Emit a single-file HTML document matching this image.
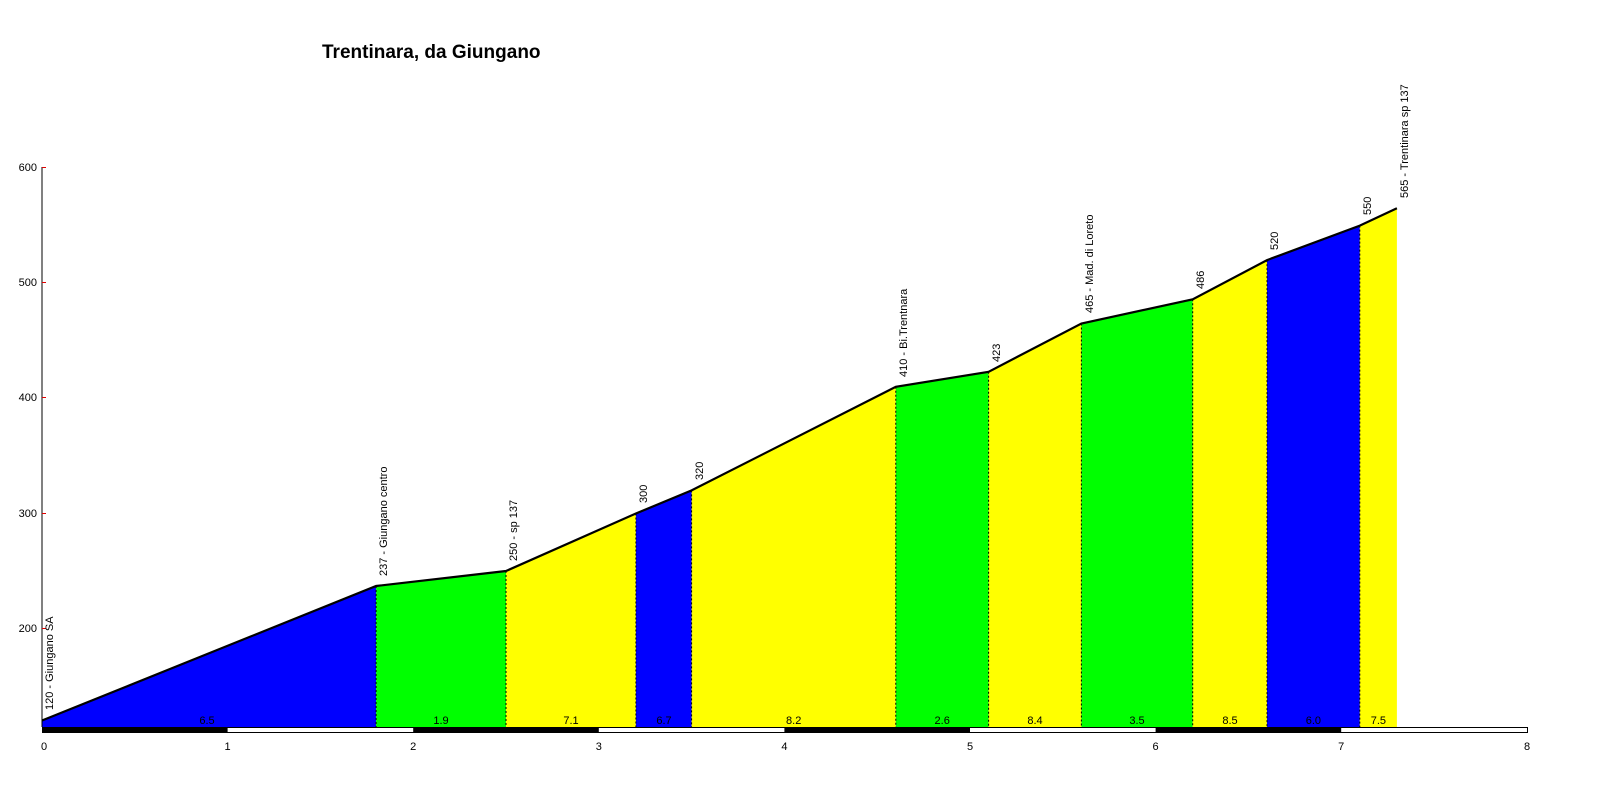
<!DOCTYPE html>
<html><head><meta charset="utf-8"><style>
html,body{margin:0;padding:0;background:#fff;}
svg{display:block;font-family:"Liberation Sans",Arial,sans-serif;}
</style></head><body>
<svg width="1600" height="800" viewBox="0 0 1600 800" xmlns="http://www.w3.org/2000/svg">
<rect width="1600" height="800" fill="#fff"/>
<text x="322" y="58" font-size="19" font-weight="bold">Trentinara, da Giungano</text>
<g stroke="none">
<polygon fill="#0000ff" points="42,727 42,720.5 376.1,586 376.1,727"/>
<polygon fill="#00ff00" points="376.1,727 376.1,586 506,571 506,727"/>
<polygon fill="#ffff00" points="506,727 506,571 635.9,513.5 635.9,727"/>
<polygon fill="#0000ff" points="635.9,727 635.9,513.5 691.6,490.4 691.6,727"/>
<polygon fill="#ffff00" points="691.6,727 691.6,490.4 895.8,386.8 895.8,727"/>
<polygon fill="#00ff00" points="895.8,727 895.8,386.8 988.6,371.8 988.6,727"/>
<polygon fill="#ffff00" points="988.6,727 988.6,371.8 1081.4,323.5 1081.4,727"/>
<polygon fill="#00ff00" points="1081.4,727 1081.4,323.5 1192.7,299.3 1192.7,727"/>
<polygon fill="#ffff00" points="1192.7,727 1192.7,299.3 1267,260.1 1267,727"/>
<polygon fill="#0000ff" points="1267,727 1267,260.1 1359.8,225.6 1359.8,727"/>
<polygon fill="#ffff00" points="1359.8,727 1359.8,225.6 1396.9,208.3 1396.9,727"/>
</g>
<g stroke="#000" stroke-width="1" stroke-dasharray="2,2">
<line x1="376.1" y1="586" x2="376.1" y2="727"/>
<line x1="506" y1="571" x2="506" y2="727"/>
<line x1="635.9" y1="513.5" x2="635.9" y2="727"/>
<line x1="691.6" y1="490.4" x2="691.6" y2="727"/>
<line x1="895.8" y1="386.8" x2="895.8" y2="727"/>
<line x1="988.6" y1="371.8" x2="988.6" y2="727"/>
<line x1="1081.4" y1="323.5" x2="1081.4" y2="727"/>
<line x1="1192.7" y1="299.3" x2="1192.7" y2="727"/>
<line x1="1267" y1="260.1" x2="1267" y2="727"/>
<line x1="1359.8" y1="225.6" x2="1359.8" y2="727"/>
</g>
<polyline fill="none" stroke="#000" stroke-width="2.2" points="42,720.5 376.1,586 506,571 635.9,513.5 691.6,490.4 895.8,386.8 988.6,371.8 1081.4,323.5 1192.7,299.3 1267,260.1 1359.8,225.6 1396.9,208.3"/>
<line x1="42" y1="167" x2="42" y2="727" stroke="#000" stroke-width="1"/>
<g stroke="#e00000" stroke-width="1">
<line x1="42" y1="167.5" x2="46" y2="167.5"/>
<line x1="42" y1="282.5" x2="46" y2="282.5"/>
<line x1="42" y1="397.5" x2="46" y2="397.5"/>
<line x1="42" y1="513.5" x2="46" y2="513.5"/>
<line x1="42" y1="628.5" x2="46" y2="628.5"/>
</g>
<g font-size="11" text-anchor="end" fill="#000">
<text x="37" y="171">600</text>
<text x="37" y="286">500</text>
<text x="37" y="401">400</text>
<text x="37" y="517">300</text>
<text x="37" y="632">200</text>
</g>
<rect x="42.5" y="727.5" width="1485" height="5" fill="#fff" stroke="#000" stroke-width="1"/>
<g fill="#000">
<rect x="42" y="727" width="185.6" height="6"/>
<rect x="413.2" y="727" width="185.6" height="6"/>
<rect x="784.4" y="727" width="185.6" height="6"/>
<rect x="1155.6" y="727" width="185.6" height="6"/>
</g>
<g font-size="11" text-anchor="middle" fill="#000">
<text x="44" y="750">0</text>
<text x="227.6" y="750">1</text>
<text x="413.2" y="750">2</text>
<text x="598.8" y="750">3</text>
<text x="784.4" y="750">4</text>
<text x="970" y="750">5</text>
<text x="1155.6" y="750">6</text>
<text x="1341.2" y="750">7</text>
<text x="1527" y="750">8</text>
</g>
<g font-size="11" text-anchor="middle" fill="#000">
<text x="207" y="724">6.5</text>
<text x="441" y="724">1.9</text>
<text x="571" y="724">7.1</text>
<text x="664" y="724">6.7</text>
<text x="793.7" y="724">8.2</text>
<text x="942.2" y="724">2.6</text>
<text x="1035" y="724">8.4</text>
<text x="1137" y="724">3.5</text>
<text x="1230" y="724">8.5</text>
<text x="1313.4" y="724">6.0</text>
<text x="1378.4" y="724">7.5</text>
</g>
<g font-size="11" fill="#000">
<text transform="translate(53,710) rotate(-90)">120 - Giungano SA</text>
<text transform="translate(387,576) rotate(-90)">237 - Giungano centro</text>
<text transform="translate(517,561) rotate(-90)">250 - sp 137</text>
<text transform="translate(647,503) rotate(-90)">300</text>
<text transform="translate(703,480) rotate(-90)">320</text>
<text transform="translate(907,377) rotate(-90)">410 - Bi.Trentnara</text>
<text transform="translate(1000,362) rotate(-90)">423</text>
<text transform="translate(1093,313) rotate(-90)">465 - Mad. di Loreto</text>
<text transform="translate(1204,289) rotate(-90)">486</text>
<text transform="translate(1278,250) rotate(-90)">520</text>
<text transform="translate(1371,215) rotate(-90)">550</text>
<text transform="translate(1408,198) rotate(-90)">565 - Trentinara sp 137</text>
</g>
</svg>
</body></html>
